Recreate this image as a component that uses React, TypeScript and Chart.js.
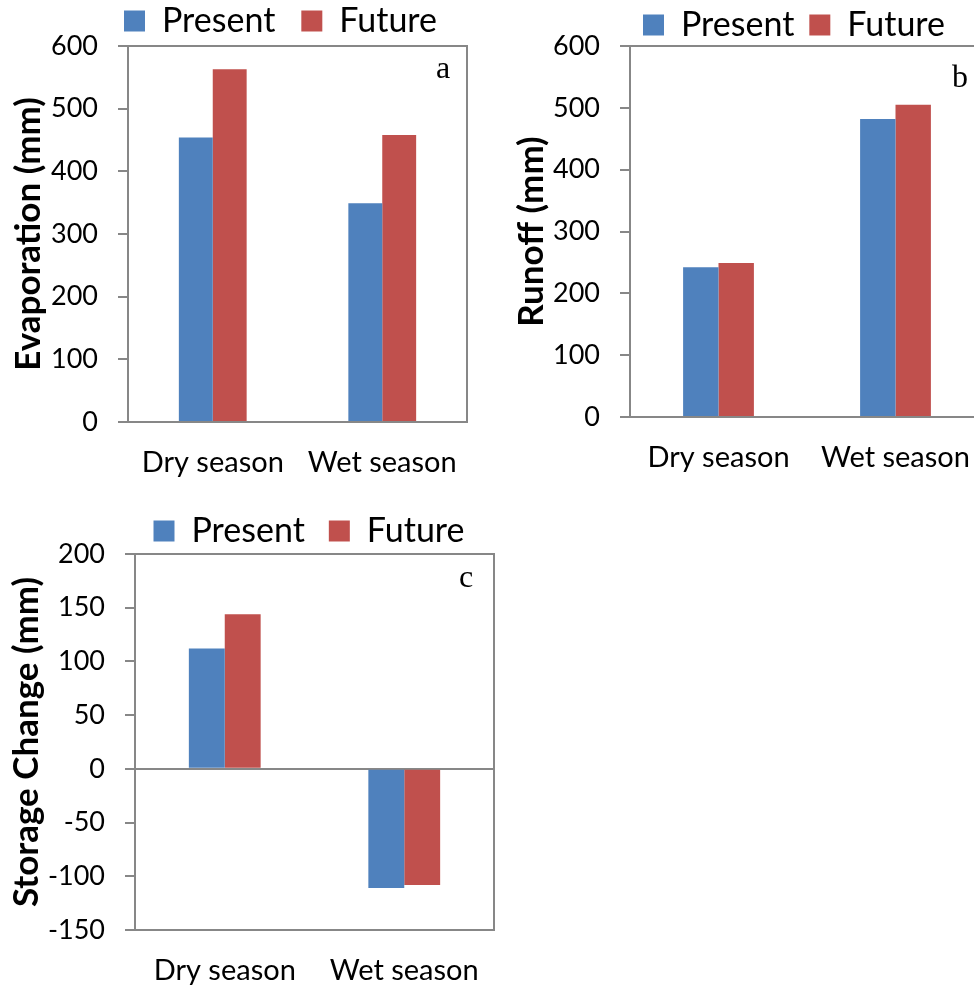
import React, { useEffect, useRef } from 'react';
import { Chart, registerables } from 'chart.js';

Chart.register(...registerables);

// ---------- data ----------
const categories = ['Dry season', 'Wet season'];
const seriesNames = ['Present', 'Future'];

const evaporationPresent = [454, 349];
const evaporationFuture = [563, 458];

const runoffPresent = [242, 482];
const runoffFuture = [249, 505];

const storagePresent = [112, -111];
const storageFuture = [144, -108];

const evaporationTicks = [0, 100, 200, 300, 400, 500, 600];
const runoffTicks = [0, 100, 200, 300, 400, 500, 600];
const storageTicks = [-150, -100, -50, 0, 50, 100, 150, 200];

// ---------- styles ----------
const PRESENT_COLOR = '#4F81BD';
const FUTURE_COLOR = '#C0504D';
const AXIS_COLOR = '#878787';
const SANS = 'Lato';

const frameAndLetter = {
  id: 'frameAndLetter',
  afterDraw(chart: any, _args: any, opts: any) {
    const { ctx, chartArea: a } = chart;
    ctx.save();
    ctx.strokeStyle = AXIS_COLOR;
    ctx.lineWidth = 2;
    ctx.beginPath();
    ctx.moveTo(a.right, a.top - 1);
    ctx.lineTo(a.right, a.bottom + 1);
    ctx.stroke();
    ctx.fillStyle = '#000';
    ctx.font = '32px "Liberation Serif", "Times New Roman", serif';
    ctx.textAlign = 'center';
    ctx.textBaseline = 'alphabetic';
    ctx.fillText(opts.letter, a.right + opts.dx, a.top + opts.dy);
    ctx.restore();
  },
};

type PanelProps = {
  left: number;
  top: number;
  width: number;
  height: number;
  yAxisWidth: number;
  rightPad: number;
  xAxisHeight: number;
  legendPadding: number;
  legendMaxHeight: number;
  titlePad: number;
  yTitle: string;
  letter: string;
  letterDx: number;
  letterDy: number;
  ticks: number[];
  present: number[];
  future: number[];
};

function BarPanel(p: PanelProps) {
  const ref = useRef<HTMLCanvasElement | null>(null);
  useEffect(() => {
    if (!ref.current) return;
    const tmin = p.ticks[0];
    const tmax = p.ticks[p.ticks.length - 1];
    const step = p.ticks[1] - p.ticks[0];
    const chart = new Chart(ref.current, {
      type: 'bar',
      data: {
        labels: categories,
        datasets: [
          {
            label: seriesNames[0],
            data: p.present,
            backgroundColor: PRESENT_COLOR,
            borderColor: PRESENT_COLOR,
            borderWidth: 0,
            yAxisID: 'y',
            xAxisID: 'x',
          },
          {
            label: seriesNames[1],
            data: p.future,
            backgroundColor: FUTURE_COLOR,
            borderColor: FUTURE_COLOR,
            borderWidth: 0,
            yAxisID: 'y',
            xAxisID: 'x',
          },
        ],
      },
      options: {
        responsive: false,
        animation: false,
        devicePixelRatio: 1,
        events: [],
        layout: { padding: 0 },
        datasets: {
          bar: { categoryPercentage: 0.4, barPercentage: 1.0 },
        },
        scales: {
          x: {
            type: 'category',
            position: 'bottom',
            grid: { display: true, color: 'rgba(0,0,0,0)', drawTicks: false },
            border: { display: true, color: AXIS_COLOR, width: 2 },
            ticks: {
              padding: 23,
              maxRotation: 0,
              autoSkip: false,
              color: '#000',
              font: { family: SANS, size: 29 },
            },
            afterFit: (s: any) => {
              s.height = p.xAxisHeight;
            },
          },
          y: {
            type: 'linear',
            position: 'left',
            min: tmin,
            max: tmax,
            ticks: {
              stepSize: step,
              padding: 20,
              color: '#000',
              font: { family: SANS, size: 27 },
              callback: (v: any) => String(v),
            },
            grid: {
              color: (c: any) =>
                c.tick && (c.tick.value === 0 || c.tick.value === tmax) ? AXIS_COLOR : 'rgba(0,0,0,0)',
              tickColor: AXIS_COLOR,
              lineWidth: 2,
              tickLength: 10,
              drawTicks: true,
            },
            border: { display: true, color: AXIS_COLOR, width: 2 },
            title: {
              display: true,
              text: p.yTitle,
              color: '#000',
              font: { family: SANS, size: 35, weight: 'bold' },
              padding: { top: p.titlePad, bottom: 0 },
            },
            afterFit: (s: any) => {
              s.width = p.yAxisWidth;
            },
          },
          pad: {
            type: 'linear',
            axis: 'y',
            position: 'right',
            display: true,
            grid: { display: false, drawTicks: false },
            border: { display: false },
            ticks: { display: false },
            afterFit: (s: any) => {
              s.width = p.rightPad;
            },
          },
        },
        plugins: {
          tooltip: { enabled: false },
          legend: {
            display: true,
            position: 'top',
            align: 'center',
            maxHeight: p.legendMaxHeight,
            labels: {
              boxWidth: 21,
              boxHeight: 21,
              padding: p.legendPadding,
              color: '#000',
              font: { family: SANS, size: 34 },
            },
          },
          frameAndLetter: { letter: p.letter, dx: p.letterDx, dy: p.letterDy },
        } as any,
      } as any,
      plugins: [frameAndLetter],
    });
    return () => chart.destroy();
  }, []);
  return (
    <canvas
      ref={ref}
      width={p.width}
      height={p.height}
      style={{
        position: 'absolute',
        left: p.left,
        top: p.top,
        width: p.width,
        height: p.height,
      }}
    />
  );
}

export default function App() {
  return (
    <div
      style={{
        position: 'absolute',
        left: 0,
        top: 0,
        width: 974,
        height: 988,
        overflow: 'hidden',
        background: '#fff',
      }}
    >
      <BarPanel
        left={0}
        top={-22}
        width={561}
        height={514}
        yAxisWidth={128}
        rightPad={94}
        xAxisHeight={70}
        legendPadding={26}
        legendMaxHeight={68}
        titlePad={8}
        yTitle="Evaporation (mm)"
        letter="a"
        letterDx={-24}
        letterDy={32}
        ticks={evaporationTicks}
        present={evaporationPresent}
        future={evaporationFuture}
      />
      <BarPanel
        left={500}
        top={-7}
        width={588}
        height={494}
        yAxisWidth={130}
        rightPad={104}
        xAxisHeight={70}
        legendPadding={15}
        legendMaxHeight={53}
        titlePad={11}
        yTitle="Runoff (mm)"
        letter="b"
        letterDx={-24}
        letterDy={41}
        ticks={runoffTicks}
        present={runoffPresent}
        future={runoffFuture}
      />
      <BarPanel
        left={0}
        top={490}
        width={618}
        height={510}
        yAxisWidth={135}
        rightPad={124}
        xAxisHeight={70}
        legendPadding={24}
        legendMaxHeight={64}
        titlePad={6}
        yTitle="Storage Change (mm)"
        letter="c"
        letterDx={-28}
        letterDy={33}
        ticks={storageTicks}
        present={storagePresent}
        future={storageFuture}
      />
    </div>
  );
}
